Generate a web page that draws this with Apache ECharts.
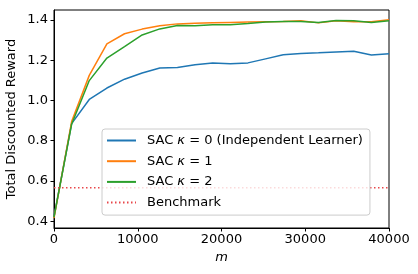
<!DOCTYPE html>
<html><head><meta charset="utf-8">
<script src="https://cdn.jsdelivr.net/npm/echarts@6/dist/echarts.min.js"></script>
<style>html,body{margin:0;padding:0;background:#fff}#c{width:418px;height:274px}</style>
</head><body><div id="c"></div>
<script>
const mValues = [0, 2105, 4211, 6316, 8421, 10526, 12632, 14737, 16842, 18947, 21053, 23158, 25263, 27368, 29474, 31579, 33684, 35789, 37895, 40000];
const sacK0 = [0.423, 0.885, 1.005, 1.062, 1.106, 1.137, 1.162, 1.164, 1.178, 1.186, 1.183, 1.187, 1.207, 1.227, 1.234, 1.237, 1.241, 1.245, 1.226, 1.233];
const sacK1 = [0.415, 0.895, 1.125, 1.282, 1.332, 1.355, 1.372, 1.381, 1.384, 1.386, 1.388, 1.390, 1.392, 1.393, 1.397, 1.386, 1.396, 1.392, 1.391, 1.401];
const sacK2 = [0.42, 0.882, 1.099, 1.211, 1.268, 1.326, 1.356, 1.373, 1.372, 1.377, 1.377, 1.383, 1.390, 1.393, 1.393, 1.388, 1.398, 1.397, 1.388, 1.397];
const benchmark = 0.566;
const xTicks = [0, 10000, 20000, 30000, 40000];
const yTicks = [0.4, 0.6, 0.8, 1.0, 1.2, 1.4];
const names = ['SAC κ = 0 (Independent Learner)', 'SAC κ = 1', 'SAC κ = 2', 'Benchmark'];

const F = 'DejaVu Sans';
const pair = arr => mValues.map((m, i) => [m, arr[i]]);
const chart = echarts.init(document.getElementById('c'), null, {renderer: 'canvas'});
chart.setOption({
  animation: false,
  backgroundColor: '#fff',
  grid: {left: 54, right: 29, top: 10, bottom: 46, containLabel: false, outerBoundsMode: 'none',
    show: true, borderColor: '#000', borderWidth: 1, backgroundColor: 'transparent'},
  xAxis: {
    type: 'value', min: 0, max: 40000,
    name: 'm', nameLocation: 'middle', nameGap: 23.5, nameMoveOverlap: false,
    nameTextStyle: {fontFamily: F, fontSize: 13, fontStyle: 'italic', color: '#000'},
    axisLine: {show: true, lineStyle: {color: '#000', width: 1}},
    axisTick: {show: true, length: 3.5, lineStyle: {color: '#000', width: 1}, customValues: xTicks},
    axisLabel: {customValues: xTicks, margin: 5, fontFamily: F, fontSize: 13, color: '#000', formatter: v => String(v)},
    splitLine: {show: false}
  },
  yAxis: {
    type: 'value', min: 0.366, max: 1.45,
    name: 'Total Discounted Reward', nameLocation: 'middle', nameGap: 36, nameRotate: 90, nameMoveOverlap: false,
    nameTextStyle: {fontFamily: F, fontSize: 13, color: '#000'},
    axisLine: {show: true, lineStyle: {color: '#000', width: 1}},
    axisTick: {show: true, length: 3.5, lineStyle: {color: '#000', width: 1}, customValues: yTicks},
    axisLabel: {customValues: yTicks, margin: 6, fontFamily: F, fontSize: 13, color: '#000', formatter: v => v.toFixed(1)},
    splitLine: {show: false}
  },
  legend: {
    orient: 'vertical', left: 102, top: 129,
    itemWidth: 29, itemHeight: 14, itemGap: 7.7,
    padding: [5, 7, 6, 4],
    backgroundColor: 'rgba(255,255,255,0.8)', borderColor: '#ccc', borderWidth: 1, borderRadius: 3,
    itemStyle: {opacity: 0},
    data: names,
    formatter: n => n.replace('κ', '{i|κ}'),
    textStyle: {fontFamily: F, fontSize: 13, color: '#000', padding: [0, 0, 0, 6],
      rich: {i: {fontFamily: F, fontSize: 13, fontStyle: 'italic', color: '#000'}}}
  },
  series: [
    {name: names[0], type: 'line', data: pair(sacK0), symbol: 'none', lineStyle: {color: '#1f77b4', width: 1.5}, itemStyle: {color: '#1f77b4'}},
    {name: names[1], type: 'line', data: pair(sacK1), symbol: 'none', lineStyle: {color: '#ff7f0e', width: 1.5}, itemStyle: {color: '#ff7f0e'}},
    {name: names[2], type: 'line', data: pair(sacK2), symbol: 'none', lineStyle: {color: '#2ca02c', width: 1.5}, itemStyle: {color: '#2ca02c'}},
    {name: names[3], type: 'line', data: [[0, benchmark], [40000, benchmark]], symbol: 'none',
      lineStyle: {color: '#e8474a', width: 1.5, type: [1.5, 2.5], cap: 'butt'}, itemStyle: {color: '#d62728'}}
  ]
});
</script></body></html>
